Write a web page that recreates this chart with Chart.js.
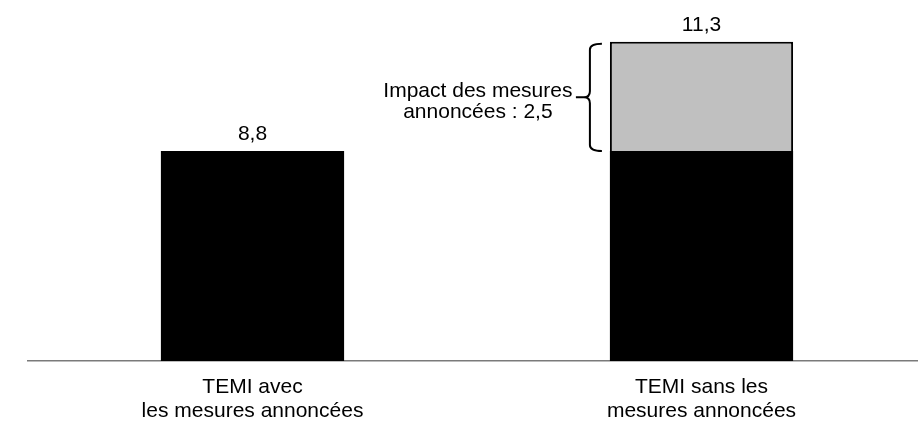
<!DOCTYPE html>
<html>
<head>
<meta charset="utf-8">
<script src="https://cdn.jsdelivr.net/npm/chart.js@4/dist/chart.umd.min.js"></script>
<style>
html, body { margin: 0; padding: 0; overflow: hidden; background: #ffffff; width: 918px; height: 439px; }
canvas { display: block; }
</style>
</head>
<body>
<canvas id="c" width="926" height="439"></canvas>
<script>
// ---- Data ----
const categories = [["TEMI avec", "les mesures annoncées"], ["TEMI sans les", "mesures annoncées"]];
const baseValues = [8.8, 8.8];
const impactValues = [null, 2.5];
const totalLabels = ["8,8", "11,3"];
const annotationLines = ["Impact des mesures", "annoncées : 2,5"];
const yMin = 4;
const yMax = 12;

const FONT = "'Liberation Sans', Arial, sans-serif";

const overlayPlugin = {
  id: 'overlay',
  afterDatasetsDraw(chart) {
    const ctx = chart.ctx;
    const yScale = chart.scales.y;
    const meta0 = chart.getDatasetMeta(0);
    ctx.save();
    ctx.fillStyle = '#000';
    ctx.font = '21px ' + FONT;
    ctx.textAlign = 'center';
    ctx.textBaseline = 'alphabetic';
    // totals above bars
    meta0.data.forEach((bar, i) => {
      const total = (baseValues[i] || 0) + (impactValues[i] || 0);
      const yTop = yScale.getPixelForValue(total);
      ctx.fillText(totalLabels[i], bar.x, yTop - 11);
    });
    // brace for the impact segment of bar 2
    const bar2 = meta0.data[1];
    const left = bar2.x - bar2.width / 2;
    const top = yScale.getPixelForValue(baseValues[1] + impactValues[1]) + 2;
    const bottom = yScale.getPixelForValue(baseValues[1]);
    const mid = (top + bottom) / 2;
    const xv = left - 20;
    const xh = left - 8;
    const xt = left - 34;
    const r = 6;
    ctx.strokeStyle = '#000';
    ctx.lineWidth = 2;
    ctx.beginPath();
    ctx.moveTo(xh, top);
    ctx.quadraticCurveTo(xv, top, xv, top + r);
    ctx.lineTo(xv, mid - r);
    ctx.quadraticCurveTo(xv, mid, xv - r, mid);
    ctx.lineTo(xt, mid);
    ctx.moveTo(xv - r, mid);
    ctx.quadraticCurveTo(xv, mid, xv, mid + r);
    ctx.lineTo(xv, bottom - r);
    ctx.quadraticCurveTo(xv, bottom, xh, bottom);
    ctx.stroke();
    // annotation text
    const cx = left - 132;
    ctx.fillText(annotationLines[0], cx, mid + 0);
    ctx.fillText(annotationLines[1], cx, mid + 21);
    ctx.restore();
  }
};

new Chart(document.getElementById('c'), {
  type: 'bar',
  data: {
    labels: categories,
    datasets: [
      {
        label: 'TEMI',
        data: baseValues,
        backgroundColor: '#000000',
        borderWidth: 0,
        barPercentage: 0.408,
        categoryPercentage: 1.0
      },
      {
        label: 'Impact',
        data: impactValues,
        backgroundColor: '#c0c0c0',
        borderColor: '#000000',
        borderWidth: 2,
        borderSkipped: 'start',
        barPercentage: 0.408,
        categoryPercentage: 1.0
      }
    ]
  },
  options: {
    responsive: false,
    animation: false,
    devicePixelRatio: 1,
    layout: { padding: { left: 28, right: 0, top: 11, bottom: 0 } },
    plugins: {
      legend: { display: false },
      tooltip: { enabled: false }
    },
    scales: {
      x: {
        stacked: true,
        grid: { display: false, drawTicks: false },
        border: { display: true, color: '#7a7a7a', width: 1.5 },
        ticks: {
          color: '#000',
          padding: 14,
          font: { family: FONT, size: 21, lineHeight: 24 / 21 },
          maxRotation: 0,
          autoSkip: false
        },
        afterFit(s) { s.height = 78; }
      },
      y: {
        stacked: true,
        display: false,
        min: yMin,
        max: yMax
      }
    }
  },
  plugins: [overlayPlugin]
});
</script>
</body>
</html>
